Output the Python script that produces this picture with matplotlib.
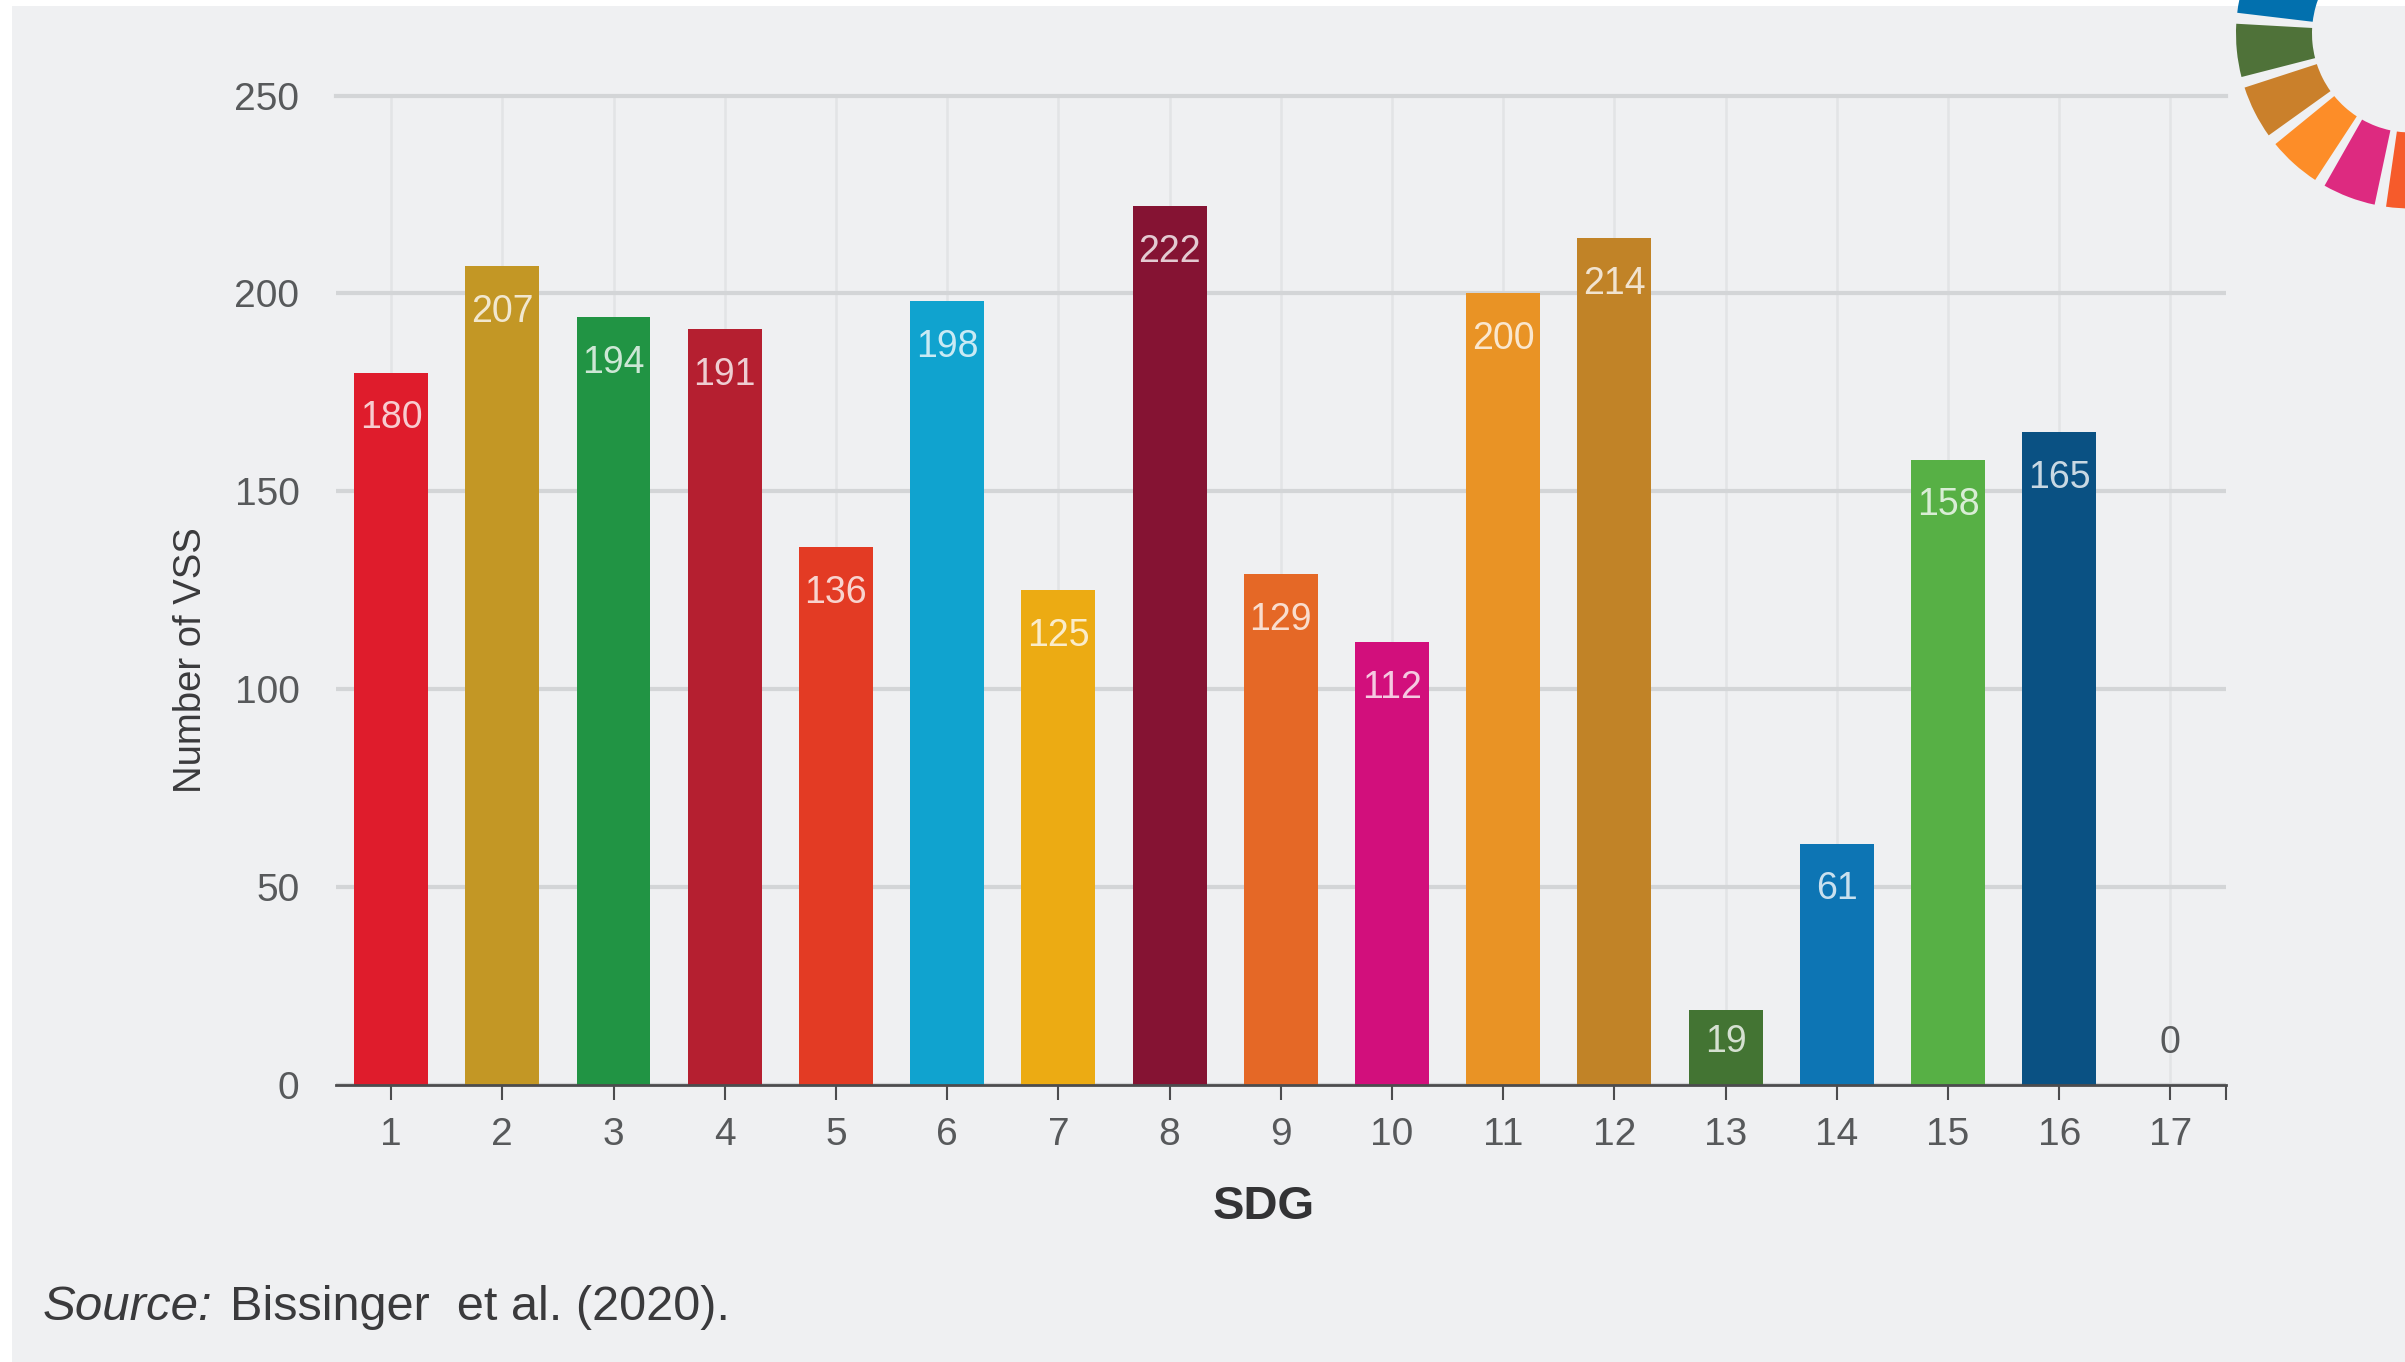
import matplotlib
matplotlib.use("Agg")
import matplotlib.pyplot as plt
from matplotlib.patches import Rectangle, Wedge

W, H = 2405, 1362
SANS = ["Liberation Sans", "DejaVu Sans"]
plt.rcParams["font.family"] = SANS

# Vendor standards counted per Sustainable Development Goal
sdg_goals = list(range(1, 18))
vss_counts = [180, 207, 194, 191, 136, 198, 125, 222, 129, 112, 200, 214, 19, 61, 158, 165, 0]
goal_colors = ["#DF1C2C", "#C39725", "#219444", "#B51F30", "#E33B24", "#10A3CF",
               "#ECAB13", "#851333", "#E56826", "#D20F7C", "#E99325", "#C18327",
               "#437433", "#0D75B4", "#57B045", "#0A5183", "#7F2B4B"]
y_ticks = [0, 50, 100, 150, 200, 250]

PANEL = "#EFF0F2"
TEXT = "#57595B"

fig = plt.figure(figsize=(W / 100, H / 100), dpi=100, facecolor="white")

# Full-figure layer in pixel units for the panel and the wheel emblem
bg = fig.add_axes([0, 0, 1, 1], zorder=0)
bg.set_xlim(0, W)
bg.set_ylim(0, H)
bg.axis("off")
bg.add_patch(Rectangle((12, 0), W - 12, H - 6, facecolor=PANEL, edgecolor="none"))

# Visible part of the 17-segment SDG wheel
wheel_center = (2411, H - 33.5)
wheel_starts = [155.6, 176.8, 198.0, 219.2, 240.4, 261.8]
wheel_colors = ["#0270AE", "#4F7239", "#CA802B", "#FD8D28", "#DD2A80", "#F65B2B"]
for start, col in zip(wheel_starts, wheel_colors):
    bg.add_patch(Wedge(wheel_center, 175, start, start + 17.6, width=76,
                       facecolor=col, edgecolor="none"))

# Bar chart
left, right, bottom, top = 335.5, 2226, 1085, 95.5
ax = fig.add_axes([left / W, 1 - bottom / H, (right - left) / W, (bottom - top) / H], zorder=1)
ax.patch.set_visible(False)
ax.set_xlim(0.5, 17.5)
ax.set_ylim(0, 250)

ax.bar(sdg_goals, vss_counts, width=0.665, color=goal_colors, zorder=3)

# Value labels sit inside the bar top; short bars keep them closer to the top
for x, v in zip(sdg_goals, vss_counts):
    if v == 0:
        offset, col, alpha = 30, TEXT, 1.0
    elif v < 30:
        offset, col, alpha = -23, "white", 0.78
    else:
        offset, col, alpha = -33, "white", 0.78
    ax.annotate(str(v), (x, v), xytext=(0, offset), textcoords="offset points",
                ha="center", va="center", fontsize=27, color=col, alpha=alpha, zorder=4)

for sp in ["top", "left", "right"]:
    ax.spines[sp].set_visible(False)
ax.spines["bottom"].set_color("#4C4C4E")
ax.spines["bottom"].set_linewidth(2.0)
ax.spines["bottom"].set_zorder(5)

ax.set_yticks(y_ticks)
ax.set_xticks(sdg_goals)
ax.set_xticks([17.5], minor=True)
ax.tick_params(axis="y", length=0, pad=26, labelsize=28, labelcolor=TEXT)
ax.tick_params(axis="x", which="major", length=11, width=1.5, color="#4C4C4E",
               pad=12, labelsize=28, labelcolor=TEXT)
ax.tick_params(axis="x", which="minor", length=11, width=1.5, color="#4C4C4E")

ax.set_axisbelow(True)
ax.grid(axis="y", color="#D3D5D7", lw=3.0, zorder=1)
ax.grid(axis="x", color="#E2E4E6", lw=1.8, zorder=1)
ax.get_ygridlines()[-1].set_clip_on(False)

# Axis titles and the source line, placed in pixel units
bg.text(191, H - 660, "Number of VSS", rotation=90, ha="center", va="center",
        fontsize=27.5, color="#3A3A3C")
bg.text(1264, H - 1207, "SDG", ha="center", va="center", fontsize=34,
        fontweight="bold", color="#333335")
bg.text(43, H - 1308, "Source:", ha="left", va="center", fontsize=35.5,
        style="italic", color="#3A3A3C")
bg.text(230, H - 1308, "Bissinger  et al. (2020).", ha="left", va="center",
        fontsize=35, color="#3A3A3C")

fig.savefig("out.png", dpi=100, facecolor="white")
